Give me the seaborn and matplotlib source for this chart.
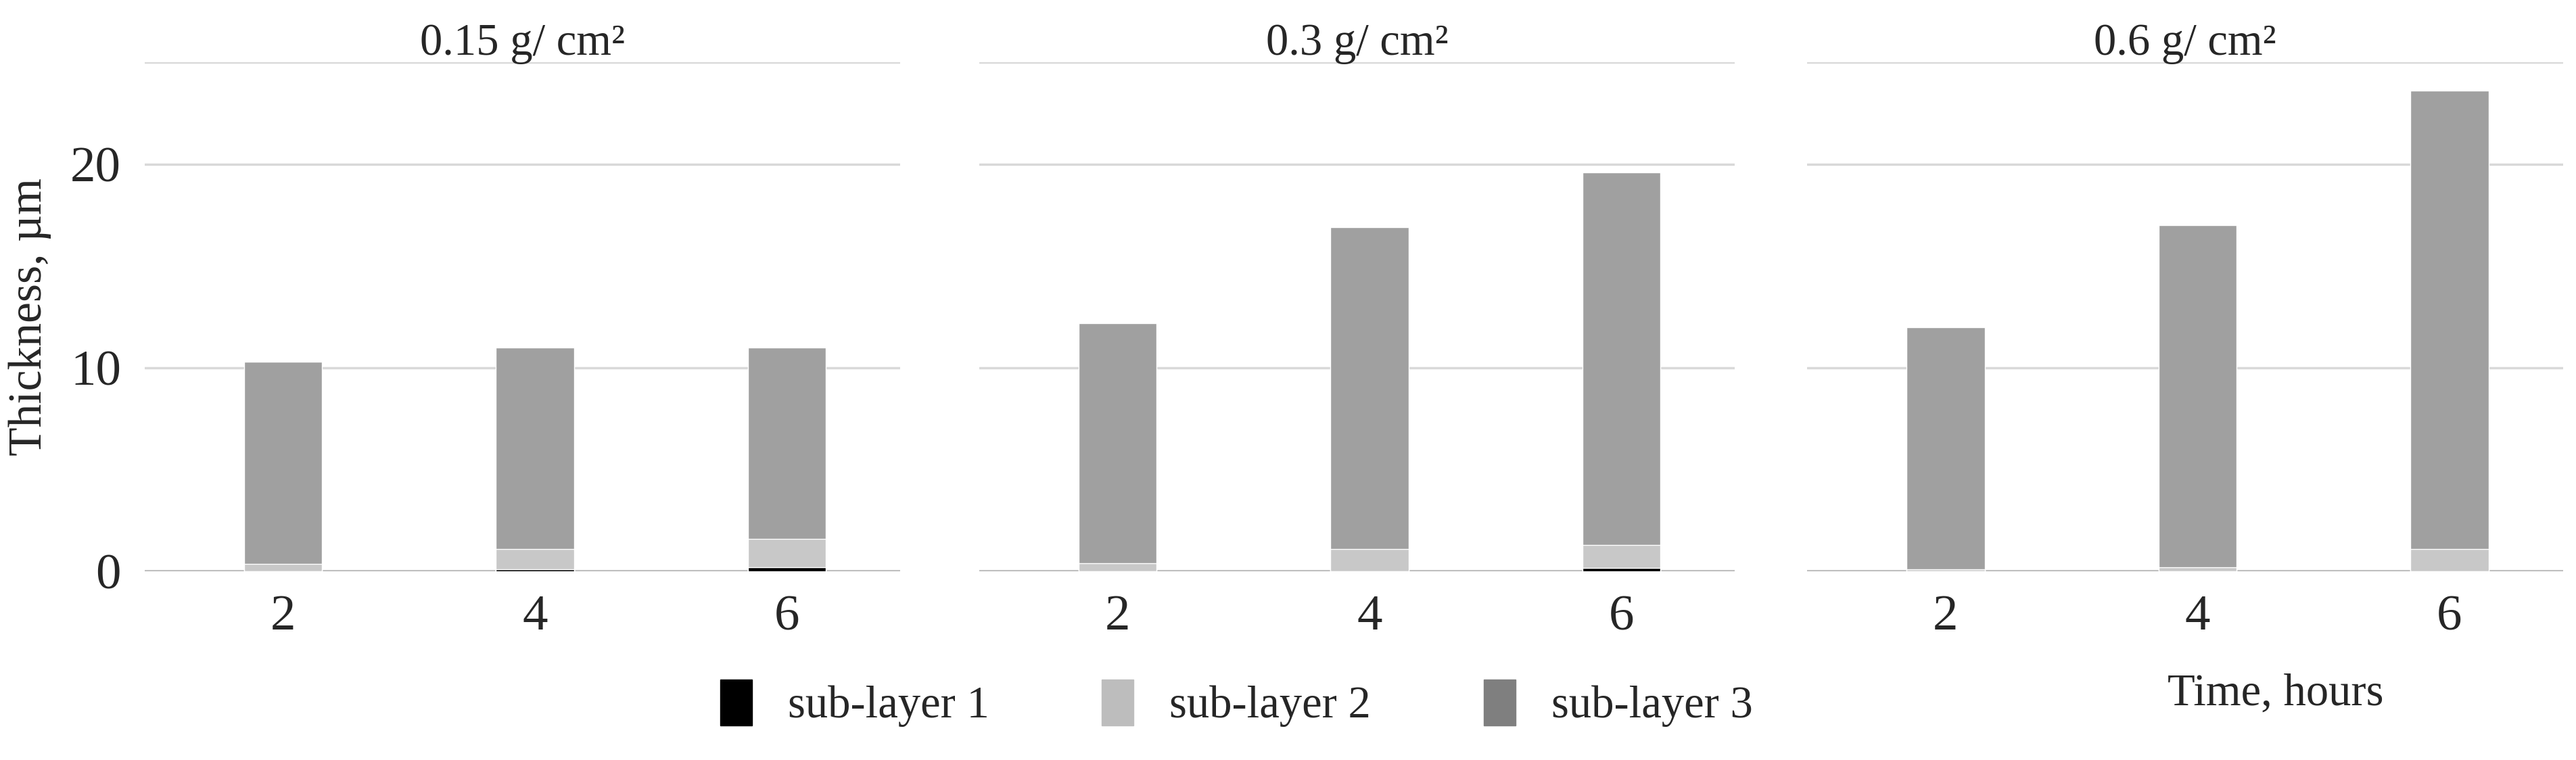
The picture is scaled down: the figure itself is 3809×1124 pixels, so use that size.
import matplotlib
matplotlib.use("Agg")
import matplotlib.pyplot as plt
import matplotlib.patches as mpatches
import seaborn as sns
import numpy as np
import pandas as pd

times = ["2", "4", "6"]
densities = ["0.15 g/ cm²", "0.3 g/ cm²", "0.6 g/ cm²"]
sub1 = [[0.0, 0.1, 0.2], [0.0, 0.0, 0.15], [0.0, 0.0, 0.0]]
sub2 = [[0.35, 1.0, 1.4], [0.4, 1.1, 1.15], [0.1, 0.2, 1.1]]
sub3 = [[9.95, 9.9, 9.4], [11.8, 15.8, 18.3], [11.9, 16.8, 22.5]]
colors = ["#000000", "#c8c8c8", "#a0a0a0"]
legend_colors = ["#000000", "#bdbdbd", "#7f7f7f"]
labels = ["sub-layer 1", "sub-layer 2", "sub-layer 3"]

sns.set_style("white")
plt.rcParams["font.family"] = ["Liberation Serif", "DejaVu Serif"]

fig = plt.figure(figsize=(38.09, 11.24), dpi=100)
lefts = [88/1568, 596/1568, 1100/1568]
w = 460/1568
bottom = (463-348)/463
top = (463-38)/463
for i in range(3):
    ax = fig.add_axes([lefts[i], bottom, w, top-bottom])
    c1 = np.array(sub1[i]); c2 = c1 + np.array(sub2[i]); c3 = c2 + np.array(sub3[i])
    for vals, col in zip([c3, c2, c1], colors[::-1]):
        df = pd.DataFrame({"t": times, "v": vals})
        sns.barplot(data=df, x="t", y="v", color=col, width=0.31, ax=ax,
                    saturation=1, zorder=3)
    ax.set_ylim(0, 25)
    ax.set_xlim(-0.55, 2.45)
    ax.set_yticks([0, 10, 20, 25])
    ax.yaxis.grid(True, color="#d9d9d9", linewidth=2.5, zorder=0)
    ax.axhline(0, color="#bfbfbf", linewidth=3, zorder=1)
    ax.set_axisbelow(True)
    for s in ax.spines.values():
        s.set_visible(False)
    ax.tick_params(axis="both", length=0, labelsize=54, pad=25)
    if i == 0:
        ax.set_yticklabels(["0", "10", "20", ""])
        ax.set_ylabel("Thickness, µm", fontsize=50, labelpad=20)
    else:
        ax.set_yticklabels([])
        ax.set_ylabel("")
    ax.set_xlabel("")
    ax.set_title(densities[i], fontsize=48, pad=8)
    if i == 2:
        ax.set_xlabel("Time, hours", fontsize=48)
        ax.xaxis.set_label_coords(0.62, -0.2)

handles = [mpatches.Patch(color=c) for c in legend_colors]
fig.legend(handles, labels, loc="lower center", ncol=3, frameon=False,
           fontsize=48, bbox_to_anchor=(0.48, -0.01), handlelength=0.7,
           handleheight=1.2, columnspacing=2.5)
fig.savefig("out.png", dpi=100)
